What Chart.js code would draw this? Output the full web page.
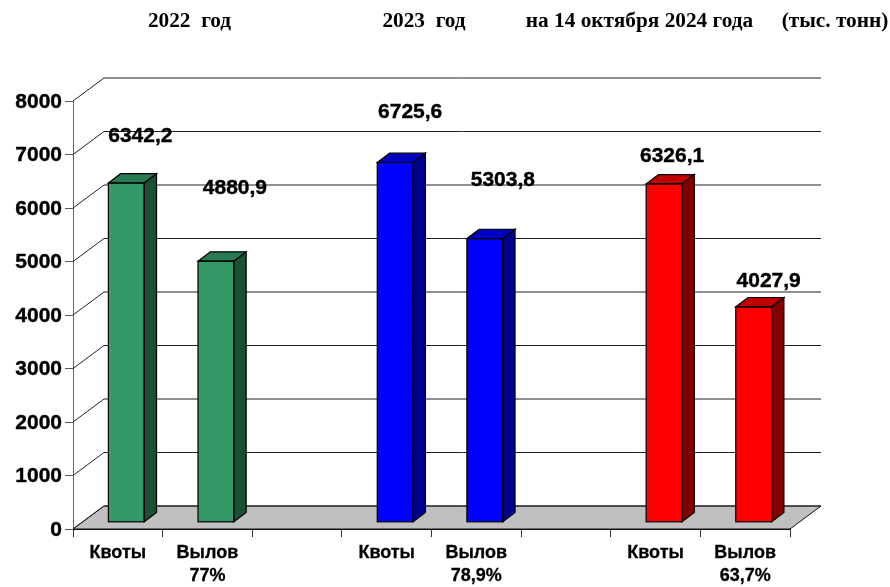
<!DOCTYPE html>
<html>
<head>
<meta charset="utf-8">
<script src="https://cdn.jsdelivr.net/npm/chart.js@4"></script>
<style>
    html, body { margin: 0; padding: 0; background: #fff; }
    canvas { display: block; }
</style>
</head>
<body>
<canvas id="graph" width="890" height="587"></canvas>
<script>
var categories = ['Квоты', ['Вылов', '77%'], '', 'Квоты', ['Вылов', '78,9%'], '', 'Квоты', ['Вылов', '63,7%']];
var values = [6342.2, 4880.9, null, 6725.6, 5303.8, null, 6326.1, 4027.9];
var valueLabels = ['6342,2', '4880,9', '', '6725,6', '5303,8', '', '6326,1', '4027,9'];
var yTicks = [0, 1000, 2000, 3000, 4000, 5000, 6000, 7000, 8000];

var frontColors = ['#339966', '#339966', null, '#0000ff', '#0000ff', null, '#ff0000', '#ff0000'];
var sideColors = ['#1c5035', '#1c5035', null, '#00008b', '#00008b', null, '#800000', '#800000'];
var topColors = ['#287a52', '#287a52', null, '#0000c0', '#0000c0', null, '#c00000', '#c00000'];

// hand placed labels in the original, shift from the top of each bar
var labelShiftX = [23, 28, 0, 24, 27, 0, 17, 24];
var labelShiftY = [-53, -80, 0, -57, -65, 0, -34, -32];

var headers = [
    { text: '2022  год', x: 189.5, y: 21 },
    { text: '2023  год', x: 424, y: 21 },
    { text: 'на 14 октября 2024 года', x: 639.5, y: 21 },
    { text: '(тыс. тонн)', x: 835, y: 21 }
];

var depthX = 31, depthY = 23;     // floor / wall depth
var barDepthX = 12.3, barDepthY = 9.3;
var barOffX = 8.5, barOffY = -6.7;  // bars stand in the middle of the floor

var fake3d = {
    id: 'fake3d',
    beforeDatasetsDraw: function (chart) {
        var c = chart.ctx, a = chart.chartArea, y = chart.scales.y;
        c.save();
        // floor
        c.beginPath();
        c.moveTo(a.left, a.bottom);
        c.lineTo(a.left + depthX, a.bottom - depthY);
        c.lineTo(a.right + depthX, a.bottom - depthY);
        c.lineTo(a.right, a.bottom);
        c.closePath();
        c.fillStyle = '#c0c0c0';
        c.fill();
        c.strokeStyle = '#111';
        c.lineWidth = 1;
        c.stroke();
        // back wall lines
        yTicks.forEach(function (v) {
            var py = y.getPixelForValue(v);
            c.beginPath();
            c.moveTo(a.left, py);
            c.lineTo(a.left + depthX, py - depthY);
            c.lineTo(a.right + depthX, py - depthY);
            c.strokeStyle = '#222';
            c.stroke();
        });
        c.restore();
    },
    beforeDatasetDraw: function (chart) {
        chart.ctx.save();
        chart.ctx.translate(barOffX, barOffY);
    },
    afterDatasetDraw: function (chart, args) {
        var c = chart.ctx;
        args.meta.data.forEach(function (bar, i) {
            if (values[i] === null) return;
            var l = bar.x - bar.width / 2, r = bar.x + bar.width / 2;
            c.strokeStyle = '#000';
            c.lineWidth = 1.2;
            // top face
            c.beginPath();
            c.moveTo(l, bar.y);
            c.lineTo(l + barDepthX, bar.y - barDepthY);
            c.lineTo(r + barDepthX, bar.y - barDepthY);
            c.lineTo(r, bar.y);
            c.closePath();
            c.fillStyle = topColors[i];
            c.fill();
            c.stroke();
            // side face
            c.beginPath();
            c.moveTo(r, bar.y);
            c.lineTo(r + barDepthX, bar.y - barDepthY);
            c.lineTo(r + barDepthX, bar.base - barDepthY);
            c.lineTo(r, bar.base);
            c.closePath();
            c.fillStyle = sideColors[i];
            c.fill();
            c.stroke();
            // front outline
            c.strokeRect(l, bar.y, r - l, bar.base - bar.y);
        });
        c.restore();
    },
    afterDatasetsDraw: function (chart) {
        var c = chart.ctx, meta = chart.getDatasetMeta(0);
        c.save();
        c.fillStyle = '#000';
        c.strokeStyle = '#000';
        c.lineWidth = 0.4;
        c.textAlign = 'center';
        c.textBaseline = 'middle';
        c.font = 'bold 21px "Liberation Sans"';
        meta.data.forEach(function (bar, i) {
            if (values[i] === null) return;
            c.fillText(valueLabels[i], bar.x + labelShiftX[i] - 0.5, bar.y + labelShiftY[i]);
            c.strokeText(valueLabels[i], bar.x + labelShiftX[i] - 0.5, bar.y + labelShiftY[i]);
        });
        c.font = 'bold 21.3px "Liberation Serif"';
        headers.forEach(function (h) {
            c.fillText(h.text, h.x, h.y);
        });
        c.restore();
    }
};

var ctx = document.getElementById('graph').getContext('2d');
var graph = new Chart(ctx, {
    type: 'bar',
    data: {
        labels: categories,
        datasets: [
            {
                label: 'тыс. тонн',
                data: values,
                backgroundColor: frontColors,
                borderWidth: 0,
                categoryPercentage: 1,
                barPercentage: 0.4
            }
        ]
    },
    options: {
        responsive: false,
        animation: false,
        layout: { padding: { top: 101, right: 100 } },
        plugins: {
            legend: { display: false },
            tooltip: { enabled: false },
            title: { display: false }
        },
        scales: {
            x: {
                afterFit: function (s) { s.height = 58; },
                border: { color: '#111' },
                grid: { drawOnChartArea: false, tickLength: 8, tickColor: '#333' },
                ticks: {
                    color: '#000',
                    autoSkip: false,
                    maxRotation: 0,
                    padding: 5,
                    textStrokeColor: '#000',
                    textStrokeWidth: 0.3,
                    font: { family: '"Liberation Sans"', size: 18, weight: 'bold', lineHeight: 1.26 }
                }
            },
            y: {
                min: 0,
                max: 8000,
                afterFit: function (s) { s.width = 73; },
                afterBuildTicks: function (s) {
                    s.ticks = yTicks.map(function (v) { return { value: v }; });
                },
                border: { color: '#666' },
                grid: { drawOnChartArea: false, tickLength: 8, tickColor: '#555' },
                ticks: {
                    color: '#000',
                    padding: 3,
                    labelOffset: 1,
                    textStrokeColor: '#000',
                    textStrokeWidth: 0.4,
                    callback: function (v) { return String(v); },
                    font: { family: '"Liberation Sans"', size: 21, weight: 'bold' }
                }
            }
        }
    },
    plugins: [fake3d]
});
</script>
</body>
</html>
